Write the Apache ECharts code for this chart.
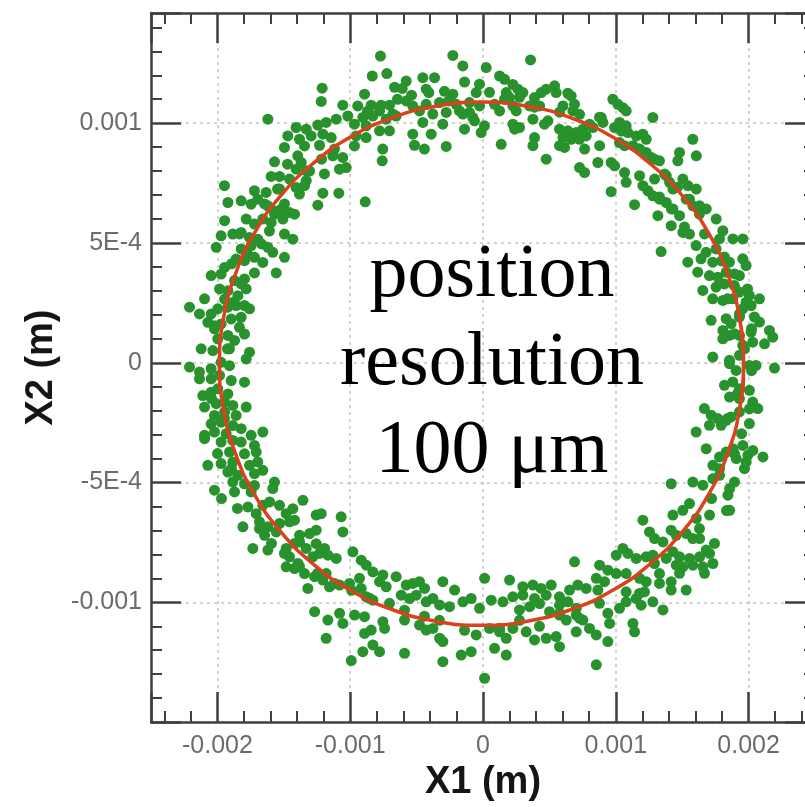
<!DOCTYPE html>
<html>
<head>
<meta charset="utf-8">
<title>X2 vs X1</title>
<script src="https://cdn.jsdelivr.net/npm/echarts@6/dist/echarts.min.js"></script>
<style>
  html, body { margin: 0; padding: 0; background: #fff; overflow: hidden; width: 805px; height: 807px; }
  #chart { position: absolute; left: 0; top: 0; width: 830px; height: 807px; }
</style>
</head>
<body>
<div id="chart"></div>
<script>
// Measured positions (X1, X2) in micrometres
const samples = [
  // upper left arc
  [-772,1280],[-227,1283],[-152,1239],[24,1232],[-834,1197],[-724,1207],[-1211,1146],[-1218,1091],[-578,1176],[-608,1145],
  [-453,1190],[-365,1190],[-428,1142],[-408,1128],[-139,1172],[-26,1163],[-51,1128],[-227,1121],[-258,1093],[-1056,1075],
  [-943,1072],[-842,1075],[-767,1075],[-704,1075],[-578,1093],[-1620,1017],[-1407,982],[-1331,975],[-1244,992],[-1181,1003],
  [-1105,1017],[-1018,1030],[-905,1024],[-830,1030],[-729,1017],[-654,1030],[-478,1051],[-378,1038],[-277,1045],[-177,1051],
  [-102,1045],[-453,1003],[-303,996],[-64,1010],[11,989],[-1470,947],[-1382,933],[-1294,947],[-1206,954],[-1143,940],
  [-955,947],[-880,940],[-779,968],[-704,968],[-529,954],[-390,954],[-139,975],[-14,961],[-1495,899],[-1344,905],
  [-1231,908],[-968,905],[-755,892],[-516,908],[-441,892],[-277,903],[-1395,864],[-1369,836],[-1131,864],[-1056,857],
  [-759,843],[-1570,839],[-1407,808],[-1331,801],[-1081,808],[-1030,815],[-1194,788],[-1595,778],[-1532,778],[-1457,767],
  [-1331,760],[-1947,739],[-1721,718],[-1633,711],[-1532,725],[-1407,732],[-1344,739],[-1206,708],[-1086,708],[-887,672],
  [-529,1072],[-428,1079],[-328,1086],[-202,1079],[-102,1086],[-26,1072],[-779,1051],[-679,1038],[-880,989],[-152,1038],
  [-77,1024],[-1834,538],[-1721,579],[-1668,496],[-1773,454],[-1570,621],[-1495,663],[-1608,550],[-1382,704],[-1306,800],
  [-1216,850],[-1118,892],[-1472,829],[-1547,725],[-1645,663],[-1894,413],[-1796,350],[-968,996],[-870,1050],[-644,1100],
  [-538,1117],[-290,1133],[-892,1121],[-666,1150],
  // upper right arc
  [358,1264],[125,1197],[162,1183],[225,1162],[263,1142],[300,1128],[175,1128],[200,1107],[476,1142],[539,1156],
  [551,1128],[639,1125],[664,1114],[438,1128],[388,1107],[87,1079],[125,1051],[225,1072],[250,1051],[351,1072],
  [426,1072],[602,1072],[677,1051],[727,1037],[376,1017],[463,996],[489,1010],[225,996],[275,982],[238,975],
  [576,975],[639,968],[702,961],[752,975],[602,940],[664,933],[727,933],[777,947],[827,982],[890,1024],
  [903,1003],[388,940],[376,906],[137,912],[576,906],[614,899],[765,892],[878,906],[476,850],[727,815],
  [765,794],[865,836],[965,836],[991,822],[978,1100],[1016,1079],[1053,1065],[1078,1051],[991,982],[1028,1003],
  [1078,989],[1091,961],[1154,947],[1204,954],[1229,933],[1279,1024],[1028,919],[1066,906],[1129,906],[1179,892],
  [1229,878],[1267,857],[1329,843],[1066,794],[1078,753],[965,714],[1179,781],[1204,739],[1242,718],[1279,697],
  [1329,683],[1141,660],[1292,767],[1380,781],[1405,753],[1430,725],[1480,878],[1467,843],[1580,933],[1606,864],
  [1380,669],[1430,642],[1480,614],[1417,572],[1317,614],[1505,767],[1543,739],[1606,725],[1530,683],[1580,655],
  [1631,655],[1681,642],[1505,544],[1555,537],[1756,600],[1806,551],[1781,517],[1882,517],[1957,517],
  [49,1129],[162,1100],[275,1108],[388,1067],[576,1046],[689,1079],[802,996],[877,1025],[1043,967],[1178,892],
  [1291,850],[1367,788],[1465,733],[1555,683],[1630,621],[1419,642],[1517,567],[1668,538],[1329,692],
  // left side
  [-1921,669],[-1821,676],[-1746,662],[-1696,683],[-1620,655],[-1570,634],[-1520,641],[-1457,627],[-1419,620],[-1946,593],
  [-1783,600],[-1658,600],[-1595,586],[-1507,600],[-1244,658],[-1972,530],[-1884,537],[-1821,544],[-1758,523],[-1696,516],
  [-1495,537],[-1432,516],[-2009,482],[-1821,475],[-1746,489],[-1620,482],[-1583,461],[-1721,440],[-1658,419],[-1495,440],
  [-1859,433],[-1796,426],[-1946,398],[-2047,364],[-1972,370],[-1721,375],[-1557,375],[-1871,343],[-1821,329],[-1783,308],
  [-1984,308],[-1921,301],[-1846,280],[-1946,266],[-1884,252],[-2210,232],[-2135,204],[-2047,204],[-1997,225],[-1921,232],
  [-1859,239],[-1796,239],[-1758,225],[-2072,169],[-2022,155],[-1972,162],[-1896,183],[-1821,190],[-1834,148],[-1796,120],
  [-1997,100],[-1921,114],[-1871,93],[-2122,58],[-2034,51],[-1909,58],[-1758,44],[-1783,16],[-2210,-18],[-2135,-39],
  [-2047,-25],[-1972,2],[-1909,-12],[-2047,-67],[-1984,-53],[-1896,-74],[-1796,-81],[-2110,-137],[-2047,-123],[-1997,-109],
  [-1921,-130],[-2097,-185],[-2009,-171],[-1946,-164],[-1884,-178],[-1783,-185],[-2022,-220],[-1946,-206],[-1859,-220],[-2047,-255],
  [-1972,-248],[-1884,-262],[-2097,-303],[-2022,-289],[-1934,-296],[-1821,-275],[-1746,-303],[-1658,-289],[-1972,-331],[-1884,-324],
  [-1821,-331],[-1721,-345],[-1909,-373],[-1796,-380],[-1708,-373],[-2072,-428],[-1972,-421],[-1884,-414],[-1758,-428],[-1696,-414],
  [-1921,-456],[-1846,-470],[-1721,-463],[-1658,-449],[-1884,-498],[-1796,-505],[-1721,-512],[-1570,-498],[-1583,-525],[-2022,-532],
  [-1871,-539],[-1746,-539],[-2097,267],[-2022,142],[-1924,58],[-2135,-67],[-2044,-150],[-1947,-233],[-2097,-317],[-1999,-379],
  [-1894,-442],[-1969,-567],[-1849,-608],
  // right side
  [1341,464],[1605,489],[1680,461],[1755,475],[1542,420],[1642,434],[1730,420],[1818,441],[1856,420],[1956,434],
  [1981,406],[1617,378],[1705,364],[1768,357],[1831,378],[1931,364],[1655,302],[1755,316],[1818,329],[1893,322],
  [1931,295],[2006,281],[1981,253],[1730,267],[1806,260],[1881,267],[1956,225],[2019,239],[1718,177],[1831,184],
  [1868,163],[1931,191],[2044,191],[2082,170],[1806,135],[1856,114],[1806,100],[1931,114],[2019,128],[2157,135],
  [2182,107],[2031,86],[1956,73],[1730,24],[1856,10],[1931,31],[2006,-11],[2056,-11],[2195,-22],[1906,-32],
  [1818,-94],[1881,-80],[1931,-108],[2006,-115],[1856,-143],[1931,-150],[2031,-164],[2069,-191],[1667,-191],[1718,-219],
  [1768,-233],[1831,-240],[1868,-226],[1605,-289],[1705,-261],[1793,-261],[2006,-254],[1931,-205],
  [1796,425],[1894,371],[1992,308],[1841,267],[1931,204],[2022,142],[1894,121],[1969,58],[1856,-4],[2022,-33],
  [1916,-129],[2007,-192],[1841,-233],[1947,-296],[1894,-379],[1781,-442],[1969,-442],[1721,-567],[1834,-617],[1630,-692],
  [1743,-754],[1555,-817],[1668,-879],[2082,267],[2120,79],
  // lower left arc
  [-1770,-602],[-1708,-630],[-1658,-595],[-1607,-581],[-1532,-595],[-1482,-630],[-1432,-609],[-1356,-574],[-1808,-685],[-1683,-664],
  [-1620,-685],[-1532,-671],[-1457,-664],[-1419,-657],[-1256,-636],[-1218,-630],[-1068,-643],[-1055,-706],[-1645,-720],[-1557,-706],
  [-1381,-720],[-1306,-713],[-1256,-699],[-1733,-775],[-1620,-782],[-1482,-775],[-1381,-748],[-1331,-775],[-1256,-755],[-1193,-775],
  [-1457,-810],[-1394,-838],[-1281,-810],[-1168,-803],[-1105,-817],[-1482,-852],[-1419,-859],[-1344,-880],[-1268,-893],[-1181,-880],
  [-1206,-907],[-1319,-942],[-1156,-935],[-1080,-928],[-1005,-921],[-980,-789],[-917,-824],[-879,-845],[-930,-900],[-829,-873],
  [-754,-886],[-779,-914],[-729,-935],[-654,-893],[-917,-942],[-879,-977],[-829,-991],[-578,-928],[-528,-921],[-478,-914],
  [-440,-942],[-302,-914],[-214,-949],[-616,-970],[-553,-984],[-503,-970],[-428,-998],[-377,-984],[-327,-1011],[-252,-1018],
  [-151,-998],[-89,-984],[-26,-1025],[-1268,-1039],[-1168,-1074],[-1080,-1046],[-1055,-1088],[-967,-1053],[-892,-1060],[-892,-1130],
  [-842,-1116],[-829,-1178],[-754,-1081],[-741,-1109],[-591,-1074],[-1181,-1150],[-992,-1243],[-905,-1206],[-779,-1206],[-591,-1213],
  [-478,-1095],[-428,-1116],[-377,-1109],[-327,-1150],[-302,-1164],[-302,-1248],[-164,-1220],[-89,-1206],[-51,-1136],
  [-1683,-692],[-1593,-754],[-1495,-796],[-1382,-850],[-1246,-879],[-1118,-921],[-990,-950],[-855,-983],[-704,-1004],[-591,-1033],
  [-441,-1058],[-328,-1075],[-1419,-754],[-1231,-796],
  // lower right arc
  [1681,-359],[1781,-393],[1731,-428],[1831,-373],[1882,-359],[1957,-345],[1995,-386],[2032,-366],[2108,-393],[1907,-400],
  [1982,-414],[1580,-498],[1656,-511],[1731,-484],[1781,-470],[1857,-525],[1894,-498],[1844,-553],[1857,-616],[1417,-505],
  [1430,-636],[1505,-616],[1555,-588],[1606,-650],[1706,-636],[1204,-657],[1254,-706],[1292,-734],[1355,-748],[1417,-699],
  [1455,-720],[1530,-713],[1580,-734],[1631,-734],[1681,-782],[1631,-810],[1706,-796],[1580,-845],[1656,-852],[1731,-838],
  [1430,-789],[1480,-810],[1455,-845],[1505,-852],[1380,-817],[1329,-880],[1417,-914],[1417,-949],[1530,-949],[1053,-775],
  [1003,-803],[1091,-796],[1154,-817],[1229,-810],[1279,-803],[878,-845],[940,-866],[1003,-880],[1078,-880],[1179,-900],
  [1229,-914],[1216,-956],[1078,-956],[1154,-984],[1191,-1012],[1279,-998],[1078,-998],[1355,-1032],[689,-831],[853,-900],
  [915,-914],[865,-949],[777,-942],[714,-928],[652,-949],[576,-977],[514,-928],[438,-942],[376,-928],[300,-935],
  [200,-907],[12,-900],[62,-991],[150,-998],[225,-977],[300,-970],[388,-984],[476,-970],[576,-1012],[639,-998],
  [702,-1025],[275,-1032],[351,-1018],[426,-1005],[501,-1039],[576,-1053],[627,-1074],[702,-1053],[752,-1074],[702,-1123],
  [802,-1109],[853,-1136],[940,-1046],[953,-1088],[940,-1164],[1129,-1088],[1141,-1123],[49,-1109],[125,-1123],[175,-1150],
  [225,-1109],[325,-1123],[388,-1157],[476,-1150],[551,-1143],[576,-1185],[87,-1192],[175,-1220],[12,-1317],[853,-1261],
  [-139,-1117],[124,-1108],[275,-1075],[425,-1100],[576,-1046],[727,-1067],[877,-1004],[1028,-1025],[1178,-963],[1329,-921],
  [1480,-879],[1291,-838]
];

// Fitted ellipse, X1 / X2 in micrometres (the loop overlaps by one step at each end)
const fitX1Um = [1932,1962,1932,1843,1698,1500,1257,976,664,332,-11,-354,-686,-998,-1279,-1522,-1720,-1865,-1954,-1984,
                 -1954,-1865,-1720,-1522,-1279,-998,-686,-354,-11,332,664,976,1257,1500,1698,1843,1932,1962,1932];
const fitX2Um = [-194,-4,186,369,542,698,832,942,1022,1071,1088,1071,1022,942,832,698,542,369,186,-4,
                 -194,-377,-550,-706,-840,-950,-1030,-1079,-1096,-1079,-1030,-950,-840,-706,-550,-377,-194,-4,186];

// Axis ranges and labelled ticks (metres)
const x1Range = [-0.0025, 0.0025];
const x2Range = [-0.0015, 0.00146];
const x1TickValues = [-0.002, -0.001, 0, 0.001, 0.002];
const x1TickLabels = ['-0.002', '-0.001', '0', '0.001', '0.002'];
const x2TickValues = [-0.001, -0.0005, 0, 0.0005, 0.001];
const x2TickLabels = ['-0.001', '-5E-4', '0', '5E-4', '0.001'];

const noteLines = ['position', 'resolution', '100 μm'];

const UM = 1e-6;
const dotData = samples.map(p => [p[0] * UM, p[1] * UM]);
const fitData = fitX1Um.map((v, i) => [v * UM, fitX2Um[i] * UM]);

function labelFor(values, labels) {
  return function (v) {
    for (let i = 0; i < values.length; i++) {
      if (Math.abs(v - values[i]) < 1e-9) return labels[i];
    }
    return '';
  };
}

const axisColor = '#404040';
const tickFont = { fontFamily: 'Liberation Sans', fontSize: 25, color: '#6b6b6b' };
const nameFont = { fontFamily: 'Liberation Sans', fontWeight: 'bold', fontSize: 38, color: '#151515' };
const gridLine = { show: true, lineStyle: { color: '#c4c4c4', width: 1.5, type: [3, 4] } };

// Axis carrying the grid lines, labels and title (drawn underneath)
function labelAxis(range, splitNumber, position) {
  return {
    type: 'value', min: range[0], max: range[1], splitNumber: splitNumber,
    position: position, z: 0,
    axisLine: { show: false },
    axisTick: { show: false },
    minorTick: { show: false },
    minorSplitLine: { show: false },
    splitLine: gridLine
  };
}

// Frame axis with major and minor ticks pointing inwards (drawn on top)
function frameAxis(range, splitNumber, position) {
  return {
    type: 'value', min: range[0], max: range[1], splitNumber: splitNumber,
    position: position, z: 1,
    axisLine: { show: true, onZero: false, lineStyle: { color: axisColor, width: 2.5 } },
    axisTick: { show: true, inside: true, length: 30, lineStyle: { color: axisColor, width: 2.5 } },
    minorTick: { show: true, splitNumber: 5, length: 11, lineStyle: { color: axisColor, width: 2 } },
    axisLabel: { show: false },
    splitLine: { show: false },
    minorSplitLine: { show: false }
  };
}

const chart = echarts.init(document.getElementById('chart'), null, { renderer: 'canvas' });

chart.setOption({
  animation: false,
  backgroundColor: '#ffffff',
  grid: { left: 151, right: 15, top: 13, bottom: 84, containLabel: false },
  xAxis: [
    Object.assign(labelAxis(x1Range, 5, 'bottom'), {
      name: 'X1 (m)',
      nameLocation: 'middle',
      nameGap: 40,
      nameTextStyle: nameFont,
      axisLabel: Object.assign({ margin: 12, formatter: labelFor(x1TickValues, x1TickLabels) }, tickFont)
    }),
    frameAxis(x1Range, 5, 'top'),
    frameAxis(x1Range, 5, 'bottom')
  ],
  yAxis: [
    Object.assign(labelAxis(x2Range, 6, 'left'), {
      name: 'X2 (m)',
      nameLocation: 'middle',
      nameGap: 78,
      nameTextStyle: nameFont,
      axisLabel: Object.assign({ margin: 9, formatter: labelFor(x2TickValues, x2TickLabels) }, tickFont)
    }),
    frameAxis(x2Range, 6, 'right'),
    frameAxis(x2Range, 6, 'left')
  ],
  series: [
    {
      type: 'scatter',
      data: dotData,
      symbol: 'circle',
      symbolSize: 11,
      itemStyle: { color: '#28922c', opacity: 1 },
      emphasis: { disabled: true },
      z: 2
    },
    {
      type: 'line',
      data: fitData,
      showSymbol: false,
      smooth: 0.5,
      lineStyle: { color: '#d8421c', width: 3.5 },
      emphasis: { disabled: true },
      z: 3
    }
  ],
  graphic: [
    {
      type: 'text',
      x: 492,
      y: 364,
      z: 10,
      style: {
        text: noteLines.join('\n'),
        font: '76px "Liberation Serif"',
        fill: '#000000',
        textAlign: 'center',
        textVerticalAlign: 'middle',
        lineHeight: 88
      }
    }
  ]
});
</script>
</body>
</html>
